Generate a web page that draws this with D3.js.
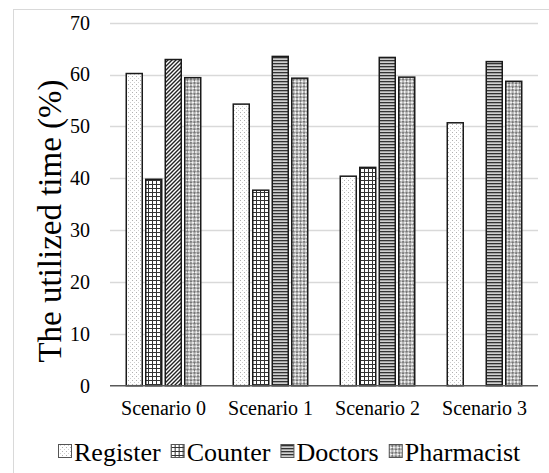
<!DOCTYPE html>
<html>
<head>
<meta charset="utf-8">
<script src="https://cdn.jsdelivr.net/npm/d3@7/dist/d3.min.js"></script>
<style>
  html, body { margin: 0; padding: 0; background: #fff; }
  svg { display: block; font-family: "Liberation Serif", "Times New Roman", serif; }
</style>
</head>
<body>
<svg id="chart" width="549" height="473"></svg>
<script>
// Utilization of each station per scenario (%)
const scenarios = ["Scenario 0", "Scenario 1", "Scenario 2", "Scenario 3"];
const seriesNames = ["Register", "Counter", "Doctors", "Pharmacist"];
const register   = [60.2, 54.3, 40.4, 50.7];
const counter    = [39.8, 37.7, 42.1, null];
const doctors    = [62.9, 63.5, 63.3, 62.5];
const pharmacist = [59.4, 59.3, 59.5, 58.7];
const yTicks = [0, 10, 20, 30, 40, 50, 60, 70];

const seriesValues = [register, counter, doctors, pharmacist];
const patternIds = ["pRegister", "pCounter", "pDoctors", "pPharmacist"];
const SERIF = "'Liberation Serif', 'Times New Roman', serif";

const svg = d3.select("#chart");
const W = 549, H = 473;
const margin = { left: 110, right: 11, top: 22.7, bottom: 87.3 };

// outer frame
svg.append("rect")
  .attr("x", 13.5).attr("y", 9.5)
  .attr("width", W).attr("height", H)
  .attr("fill", "#fff").attr("stroke", "#d9d9d9").attr("stroke-width", 1);

// fill patterns
const defs = svg.append("defs");

const pReg = defs.append("pattern").attr("id", "pRegister")
  .attr("patternUnits", "userSpaceOnUse").attr("width", 4).attr("height", 4);
pReg.append("rect").attr("width", 4).attr("height", 4).attr("fill", "#fff");
pReg.append("rect").attr("x", 0).attr("y", 0).attr("width", 1).attr("height", 1).attr("fill", "#b0b0b0");
pReg.append("rect").attr("x", 2).attr("y", 2).attr("width", 1).attr("height", 1).attr("fill", "#cfcfcf");

const pCnt = defs.append("pattern").attr("id", "pCounter")
  .attr("patternUnits", "userSpaceOnUse").attr("width", 4).attr("height", 4);
pCnt.append("rect").attr("width", 4).attr("height", 4).attr("fill", "#fff");
pCnt.append("rect").attr("x", 0).attr("y", 0).attr("width", 4).attr("height", 1).attr("fill", "#333");
pCnt.append("rect").attr("x", 0).attr("y", 0).attr("width", 1).attr("height", 4).attr("fill", "#333");

const pDoc = defs.append("pattern").attr("id", "pDoctors")
  .attr("patternUnits", "userSpaceOnUse").attr("width", 4).attr("height", 3);
pDoc.append("rect").attr("width", 4).attr("height", 3).attr("fill", "#d0d0d0");
pDoc.append("rect").attr("x", 0).attr("y", 0).attr("width", 4).attr("height", 1.3).attr("fill", "#333");

const pDiag = defs.append("pattern").attr("id", "pDiagonal")
  .attr("patternUnits", "userSpaceOnUse").attr("width", 4).attr("height", 4);
pDiag.append("rect").attr("width", 4).attr("height", 4).attr("fill", "#fff");
pDiag.append("path").attr("d", "M-1,5 L5,-1 M-1,1 L1,-1 M3,5 L5,3")
  .attr("stroke", "#222").attr("stroke-width", 1.4);

const pPh = defs.append("pattern").attr("id", "pPharmacist")
  .attr("patternUnits", "userSpaceOnUse").attr("width", 5).attr("height", 5)
  .attr("patternTransform", "rotate(45)");
pPh.append("rect").attr("width", 5).attr("height", 5).attr("fill", "#f2f2f2");
pPh.append("rect").attr("x", 0).attr("y", 0).attr("width", 2.5).attr("height", 2.5).attr("fill", "#777");
pPh.append("rect").attr("x", 2.5).attr("y", 2.5).attr("width", 2.5).attr("height", 2.5).attr("fill", "#777");

// scales
const x = d3.scaleBand().domain(scenarios)
  .range([margin.left, W - margin.right]);
const xs = d3.scaleBand().domain(seriesNames)
  .range([0, x.bandwidth()]).paddingInner(0.18).paddingOuter(0.834);
const y = d3.scaleLinear().domain([0, 70])
  .range([H - margin.bottom, margin.top]);

// gridlines
svg.append("g").selectAll("line")
  .data(yTicks.filter(d => d > 0)).join("line")
  .attr("x1", margin.left).attr("x2", W - margin.right)
  .attr("y1", d => Math.round(y(d)) + 0.5).attr("y2", d => Math.round(y(d)) + 0.5)
  .attr("stroke", "#d9d9d9").attr("stroke-width", 1.3);

// y axis labels
const yAxis = svg.append("g")
  .attr("transform", `translate(${margin.left},0)`)
  .call(d3.axisLeft(y).tickValues(yTicks).tickSize(0).tickPadding(20).tickFormat(d3.format("d")));
yAxis.attr("font-family", SERIF);
yAxis.select(".domain").remove();
yAxis.selectAll("text")
  .style("font-family", SERIF)
  .attr("font-size", 20).attr("fill", "#000");

// bars
const bars = [];
seriesNames.forEach((s, si) => {
  scenarios.forEach((c, ci) => {
    const v = seriesValues[si][ci];
    if (v == null) return;
    let fill = `url(#${patternIds[si]})`;
    if (s === "Doctors" && ci === 0) fill = "url(#pDiagonal)";
    bars.push({ s, c, v, fill });
  });
});
svg.append("g").selectAll("rect")
  .data(bars).join("rect")
  .attr("x", d => x(d.c) + xs(d.s))
  .attr("y", d => y(d.v))
  .attr("width", xs.bandwidth())
  .attr("height", d => y(0) - y(d.v))
  .attr("fill", d => d.fill)
  .attr("stroke", "#1a1a1a").attr("stroke-width", 1.5);

// baseline
svg.append("line")
  .attr("x1", margin.left).attr("x2", W - margin.right)
  .attr("y1", y(0)).attr("y2", y(0))
  .attr("stroke", "#595959").attr("stroke-width", 1.5);

// x axis labels
const xAxis = svg.append("g")
  .attr("transform", `translate(0,${y(0)})`)
  .call(d3.axisBottom(x).tickSize(0).tickPadding(15));
xAxis.attr("font-family", SERIF);
xAxis.select(".domain").remove();
xAxis.selectAll("text")
  .style("font-family", SERIF)
  .attr("font-size", 20).attr("fill", "#000");

// y title
svg.append("text")
  .attr("transform", "translate(50,221) rotate(-90)")
  .attr("text-anchor", "middle").attr("dominant-baseline", "central")
  .style("font-family", SERIF)
  .attr("font-size", 33).attr("fill", "#000")
  .text("The utilized time (%)");

// legend
const legend = svg.append("g").attr("transform", "translate(0,451)");
let lx = 58;
seriesNames.forEach((s, i) => {
  const g = legend.append("g").attr("transform", `translate(${lx},0)`);
  g.append("rect").attr("x", 0.5).attr("y", -6.5).attr("width", 13).attr("height", 13)
    .attr("fill", `url(#${patternIds[i]})`).attr("stroke", "#555").attr("stroke-width", 1);
  const t = g.append("text").attr("x", 16).attr("y", 1)
    .attr("dominant-baseline", "central")
    .style("font-family", SERIF)
    .attr("font-size", 26).attr("fill", "#000").text(s);
  lx += 16 + t.node().getComputedTextLength() + 10;
});
</script>
</body>
</html>
